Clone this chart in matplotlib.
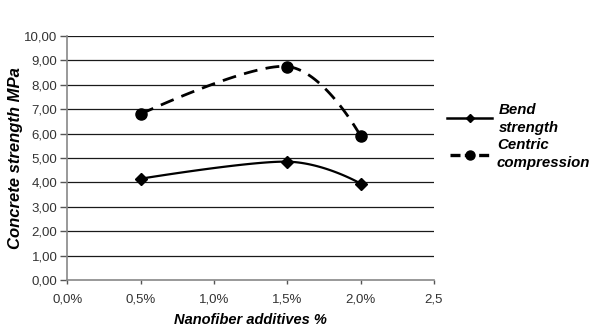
import numpy as np
import matplotlib
matplotlib.use("Agg")
import matplotlib.pyplot as plt
from matplotlib.lines import Line2D

plt.rcParams['font.family'] = ['Liberation Sans', 'DejaVu Sans']

x_vals = [0.5, 1.5, 2.0]
bend = [4.15, 4.85, 3.95]
compression = [6.80, 8.75, 5.90]
x_ticks = [0.0, 0.5, 1.0, 1.5, 2.0, 2.5]
x_tick_labels = ["0,0%", "0,5%", "1,0%", "1,5%", "2,0%", "2,5"]
y_ticks = list(range(0, 11))
y_tick_labels = [f"{v},00" for v in y_ticks]
legend_labels = ["Bend\nstrength", "Centric\ncompression"]


def smooth(xs, ys, n=40, t=1/6):
    # Excel-like smoothed line: cubic Bezier segments with Catmull-Rom tangents
    xs = np.asarray(xs, float); ys = np.asarray(ys, float)
    px, py = [], []
    m = len(xs)
    for i in range(m - 1):
        p0 = np.array([xs[max(i - 1, 0)], ys[max(i - 1, 0)]])
        p1 = np.array([xs[i], ys[i]])
        p2 = np.array([xs[i + 1], ys[i + 1]])
        p3 = np.array([xs[min(i + 2, m - 1)], ys[min(i + 2, m - 1)]])
        c1 = p1 + (p2 - p0) * t * (1 if i > 0 else 0.0)
        c2 = p2 - (p3 - p1) * t * (1 if i + 2 < m else 0.0)
        s = np.linspace(0, 1, n)[:, None]
        b = ((1 - s) ** 3) * p1 + 3 * ((1 - s) ** 2) * s * c1 + 3 * (1 - s) * s ** 2 * c2 + s ** 3 * p2
        px.extend(b[:, 0]); py.extend(b[:, 1])
    return np.array(px), np.array(py)


fig = plt.figure(figsize=(6.0, 3.34), dpi=100)
ax = fig.add_axes([0.112, 0.1617, 0.6113, 0.7305])
ax.set_xlim(0, 2.5)
ax.set_ylim(0, 10)

for v in y_ticks[1:]:
    ax.axhline(v, color='#1a1a1a', lw=0.9, zorder=1)

sx, sy = smooth(x_vals, bend)
ax.plot(sx, sy, color='black', lw=1.6, zorder=3)
ax.plot(x_vals, bend, ls='none', marker='D', ms=6, color='black', zorder=4)

cx, cy = smooth(x_vals, compression)
ax.plot(cx, cy, color='black', lw=2.0, ls=(0, (5, 3)), zorder=3)
ax.plot(x_vals, compression, ls='none', marker='o', ms=8, color='black', zorder=4)

ax.set_xticks(x_ticks)
ax.set_xticklabels(x_tick_labels)
ax.set_yticks(y_ticks)
ax.set_yticklabels(y_tick_labels)
ax.tick_params(axis='both', labelsize=9.5, colors='#555555', labelcolor='#333333', width=1)
ax.tick_params(axis='x', direction='out', length=3, pad=7)
ax.tick_params(axis='y', direction='out', length=5, pad=2)

for s in ['top', 'right']:
    ax.spines[s].set_visible(False)
for s in ['left', 'bottom']:
    ax.spines[s].set_color('#888888')
    ax.spines[s].set_linewidth(1.2)

ax.set_xlabel("Nanofiber additives %", fontsize=10.5, fontweight='bold', style='italic', va='center')
ax.set_ylabel("Concrete strength MPa", fontsize=12, fontweight='bold', style='italic', va='center')
ax.xaxis.set_label_coords(0.5, -0.164)
ax.yaxis.set_label_coords(-0.142, 0.5)

# legend drawn at the right of the plot
tf = fig.transFigure
fig.add_artist(Line2D([447 / 600, 492 / 600], [1 - 118 / 334] * 2, transform=tf,
                      color='black', lw=1.8))
fig.add_artist(Line2D([469.5 / 600], [1 - 118 / 334], transform=tf,
                      color='black', marker='D', ms=4.5, ls='none'))
fig.add_artist(Line2D([450 / 600, 490 / 600], [1 - 155 / 334] * 2, transform=tf,
                      color='black', lw=2.4, ls=(0, (3, 1.3))))
fig.add_artist(Line2D([470 / 600], [1 - 155 / 334], transform=tf,
                      color='black', marker='o', ms=6.5, ls='none'))
text_kw = dict(fontsize=10.8, fontweight='bold', style='italic', linespacing=1.35,
               va='center', ha='left')
fig.text(499 / 600, 1 - 119 / 334, legend_labels[0], **text_kw)
fig.text(497 / 600, 1 - 154 / 334, legend_labels[1], **text_kw)

fig.savefig("out.png", dpi=100, facecolor='white')
